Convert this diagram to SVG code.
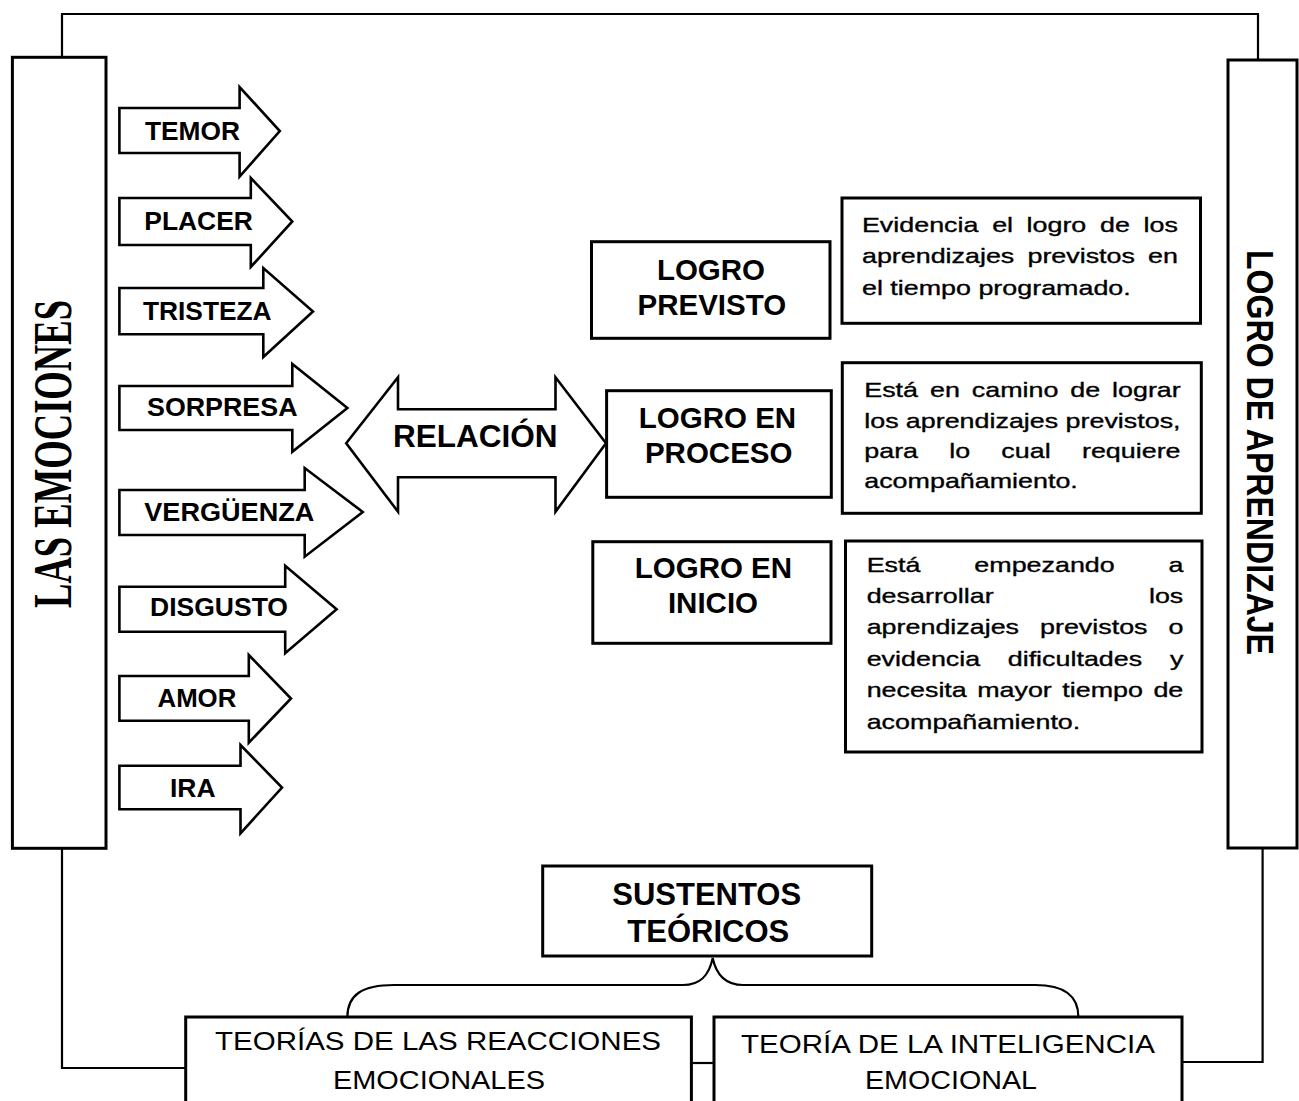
<svg xmlns="http://www.w3.org/2000/svg" width="1299" height="1101" viewBox="0 0 1299 1101">
<style>
.box{fill:#fff;stroke:#000;stroke-width:3}
.arrow{fill:#fff;stroke:#000;stroke-width:2.6;stroke-linejoin:miter}
.conn{fill:none;stroke:#000;stroke-width:2.2}
.lbl{font-family:"Liberation Sans",Arial,sans-serif;font-weight:bold;fill:#000}
.desc{font-family:"Liberation Sans",Arial,sans-serif;font-size:21px;fill:#000;stroke:#000;stroke-width:0.35}
.reg{font-family:"Liberation Sans",Arial,sans-serif;font-size:25.5px;fill:#000}
</style>
<rect width="1299" height="1101" fill="#fff"/>
<g id="connectors">
<polyline class="conn" points="62,57 62,14 1258,14 1258,60"/>
<polyline class="conn" points="62,848 62,1068 185.7,1068"/>
<polyline class="conn" points="1182,1062 1262.6,1062 1262.6,848"/>
<line class="conn" x1="691.4" y1="1063" x2="714" y2="1063"/>
<path class="conn" d="M347.4,1017 C347.4,995 362,985 394,985 L683,985 C700,985 709,976 712.7,958 C716.5,976 726,985 743,985 L1035,985 C1064,985 1078.4,995 1078.4,1017"/>
</g>
<g id="las-emociones">
<rect class="box" x="12.4" y="57.3" width="93.6" height="791"/>
<text transform="translate(53.3,454) rotate(-90) scale(1,1.5)" x="0" y="12.1" text-anchor="middle" font-family="'Liberation Serif','Times New Roman',serif" font-weight="bold" font-size="36.6" textLength="308" lengthAdjust="spacingAndGlyphs">LAS EMOCIONES</text>
</g>
<g id="logro-aprendizaje">
<rect class="box" x="1228" y="60" width="69" height="788"/>
<text class="lbl" transform="translate(1260,452.5) rotate(90) scale(1,1.17)" x="0" y="11.45" text-anchor="middle" font-size="32" textLength="405" lengthAdjust="spacingAndGlyphs">LOGRO DE APRENDIZAJE</text>
</g>
<g id="temor">
<polygon class="arrow" points="119.4,108 239.6,108 239.6,87 279.8,131 239.6,176.5 239.6,153 119.4,153"/>
<text class="lbl" x="145" y="140" font-size="26" textLength="95" lengthAdjust="spacingAndGlyphs">TEMOR</text>
</g>
<g id="placer">
<polygon class="arrow" points="119.4,198 250.8,198 250.8,178 292.3,221.5 250.8,267 250.8,245 119.4,245"/>
<text class="lbl" x="144.3" y="230" font-size="26" textLength="108.6" lengthAdjust="spacingAndGlyphs">PLACER</text>
</g>
<g id="tristeza">
<polygon class="arrow" points="119.4,288 263.3,288 263.3,268 313,311.5 263.3,357 263.3,334.3 119.4,334.3"/>
<text class="lbl" x="143" y="320" font-size="26" textLength="128.6" lengthAdjust="spacingAndGlyphs">TRISTEZA</text>
</g>
<g id="sorpresa">
<polygon class="arrow" points="119.4,386 292.3,386 292.3,364 347.4,408 292.3,451.7 292.3,430 119.4,430"/>
<text class="lbl" x="147" y="416" font-size="26" textLength="150.5" lengthAdjust="spacingAndGlyphs">SORPRESA</text>
</g>
<g id="verguenza">
<polygon class="arrow" points="119.4,490 304.7,490 304.7,468 362.8,512 304.7,556.7 304.7,535 119.4,535"/>
<text class="lbl" x="144.3" y="520.7" font-size="26" textLength="170" lengthAdjust="spacingAndGlyphs">VERGÜENZA</text>
</g>
<g id="disgusto">
<polygon class="arrow" points="119.4,586.7 285.2,586.7 285.2,565.7 336.6,609.3 285.2,653.3 285.2,631.7 119.4,631.7"/>
<text class="lbl" x="150" y="616" font-size="26" textLength="138" lengthAdjust="spacingAndGlyphs">DISGUSTO</text>
</g>
<g id="amor">
<polygon class="arrow" points="119.4,676 248.8,676 248.8,655 291,698.5 248.8,742.7 248.8,720.7 119.4,720.7"/>
<text class="lbl" x="157.5" y="706.7" font-size="26" textLength="78.8" lengthAdjust="spacingAndGlyphs">AMOR</text>
</g>
<g id="ira">
<polygon class="arrow" points="119.4,765.7 240.5,765.7 240.5,745 282,787.5 240.5,833.3 240.5,809.3 119.4,809.3"/>
<text class="lbl" x="170" y="796.7" font-size="26" textLength="45.6" lengthAdjust="spacingAndGlyphs">IRA</text>
</g>
<g id="relacion">
<polygon class="arrow" points="346.2,443.3 398,377.3 398,409.3 555.5,409.3 555.5,377.3 606,443.3 555.5,511.7 555.5,477.3 398,477.3 398,511.7"/>
<text class="lbl" x="393" y="446.5" font-size="31.5" textLength="164.6" lengthAdjust="spacingAndGlyphs">RELACIÓN</text>
</g>
<g id="logro-previsto">
<rect class="box" x="591.5" y="241.7" width="238.5" height="96.6"/>
<text class="lbl" x="711" y="280" font-size="29.5" text-anchor="middle">LOGRO</text>
<text class="lbl" x="711.8" y="315" font-size="29.5" text-anchor="middle">PREVISTO</text>
</g>
<g id="logro-proceso">
<rect class="box" x="606.6" y="390.7" width="224.7" height="106.6"/>
<text class="lbl" x="717.5" y="428.3" font-size="29.5" text-anchor="middle">LOGRO EN</text>
<text class="lbl" x="718.7" y="463.3" font-size="29.5" text-anchor="middle">PROCESO</text>
</g>
<g id="logro-inicio">
<rect class="box" x="592.8" y="541.7" width="238.2" height="101.6"/>
<text class="lbl" x="713.4" y="578.3" font-size="29.5" text-anchor="middle">LOGRO EN</text>
<text class="lbl" x="713" y="613.3" font-size="29.5" text-anchor="middle">INICIO</text>
</g>
<g id="desc-previsto">
<rect class="box" x="842" y="198" width="358.5" height="125.3"/>
<g transform="scale(1.28,1)">
<text class="desc" y="232"><tspan x="673.4">Evidencia </tspan><tspan x="775.1">el </tspan><tspan x="802">logro </tspan><tspan x="859.4">de </tspan><tspan x="893.4">los</tspan></text>
<text class="desc" y="263"><tspan x="673.4">aprendizajes </tspan><tspan x="802.7">previstos </tspan><tspan x="896.9">en</tspan></text>
<text class="desc" x="673.4" y="295">el tiempo programado.</text>
</g>
</g>
<g id="desc-proceso">
<rect class="box" x="842.3" y="362.7" width="359" height="150.6"/>
<g transform="scale(1.28,1)">
<text class="desc" y="396.7"><tspan x="675.2">Está </tspan><tspan x="726.6">en </tspan><tspan x="759.2">camino </tspan><tspan x="836.2">de </tspan><tspan x="868.8">lograr</tspan></text>
<text class="desc" y="428.3"><tspan x="675.2">los </tspan><tspan x="707.7">aprendizajes </tspan><tspan x="832.5">previstos,</tspan></text>
<text class="desc" y="458.3"><tspan x="675.2">para </tspan><tspan x="741.6">lo </tspan><tspan x="782.3">cual </tspan><tspan x="845.3">requiere</tspan></text>
<text class="desc" x="675.2" y="488.3">acompañamiento.</text>
</g>
</g>
<g id="desc-inicio">
<rect class="box" x="845.5" y="541" width="356.5" height="211"/>
<g transform="scale(1.28,1)">
<text class="desc" y="571.7"><tspan x="677.1">Está </tspan><tspan x="761.2">empezando </tspan><tspan x="912.8">a</tspan></text>
<text class="desc" y="603"><tspan x="677.1">desarrollar </tspan><tspan x="897.6">los</tspan></text>
<text class="desc" y="634.5"><tspan x="677.1">aprendizajes </tspan><tspan x="812.5">previstos </tspan><tspan x="912.8">o</tspan></text>
<text class="desc" y="666"><tspan x="677.1">evidencia </tspan><tspan x="787.3">dificultades </tspan><tspan x="914">y</tspan></text>
<text class="desc" y="697.5"><tspan x="677.1">necesita </tspan><tspan x="763.4">mayor </tspan><tspan x="829.9">tiempo </tspan><tspan x="901.1">de</tspan></text>
<text class="desc" x="677.1" y="729">acompañamiento.</text>
</g>
</g>
<g id="sustentos">
<rect class="box" x="542.7" y="866" width="329" height="90"/>
<text class="lbl" x="706.7" y="905" font-size="31" text-anchor="middle">SUSTENTOS</text>
<text class="lbl" x="708.3" y="941.7" font-size="31" text-anchor="middle">TEÓRICOS</text>
</g>
<g id="teorias-reacciones">
<rect class="box" x="185.7" y="1017" width="505.7" height="100"/>
<text class="reg" x="438" y="1050" text-anchor="middle" textLength="446" lengthAdjust="spacingAndGlyphs">TEORÍAS DE LAS REACCIONES</text>
<text class="reg" x="439" y="1089" text-anchor="middle" textLength="212" lengthAdjust="spacingAndGlyphs">EMOCIONALES</text>
</g>
<g id="teoria-inteligencia">
<rect class="box" x="714" y="1017" width="468" height="100"/>
<text class="reg" x="948" y="1053" text-anchor="middle" textLength="414" lengthAdjust="spacingAndGlyphs">TEORÍA DE LA INTELIGENCIA</text>
<text class="reg" x="951" y="1089" text-anchor="middle" textLength="172" lengthAdjust="spacingAndGlyphs">EMOCIONAL</text>
</g>
</svg>
